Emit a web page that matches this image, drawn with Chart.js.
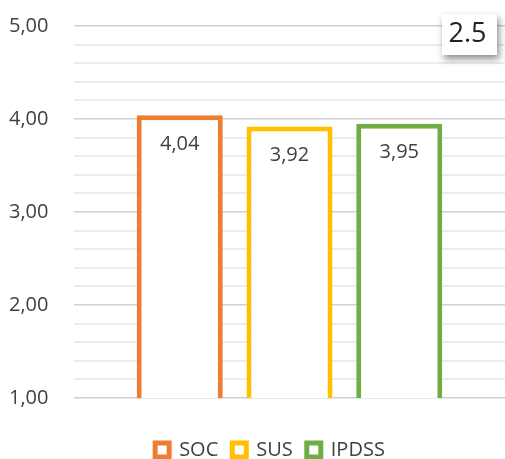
<!DOCTYPE html>
<html>
<head>
<meta charset="utf-8">
<script src="https://cdn.jsdelivr.net/npm/chart.js@4/dist/chart.umd.min.js"></script>
<style>
  html, body { margin: 0; padding: 0; background: #fff; }
  #wrap { width: 505px; height: 459px; }
</style>
</head>
<body>
<div id="wrap"><canvas id="chart"></canvas></div>
<script>
// ─── Data ───────────────────────────────────────────────────────────────────
const categories = [''];
const seriesNames = ['SOC', 'SUS', 'IPDSS'];
const seriesValues = [4.04, 3.92, 3.95];
const seriesColors = ['#ED7D31', '#FFC000', '#70AD47'];
const yMin = 1;
const yMax = 5;
const badgeText = '2.5';

const FONT = '"Open Sans", "Liberation Sans", sans-serif';
const TEXT = '#404040';

const isMajor = v => Math.abs(v - Math.round(v)) < 1e-6;
const fmt = v => v.toFixed(2).replace('.', ',');

// ─── Plugins ────────────────────────────────────────────────────────────────

// legend sits at the very bottom, with a gap above it, nudged right
const legendSpace = {
  id: 'legendSpace',
  beforeLayout(chart) {
    const lg = chart.legend;
    if (!lg || lg._patched) return;
    const fit = lg.fit;
    lg.fit = function () {
      fit.call(this);
      this.height = 61;
    };
    lg._patched = true;
  },
  afterLayout(chart) {
    const lg = chart.legend;
    if (!lg) return;
    lg.left += 13;
    lg.right += 13;
  }
};

const barLabels = {
  id: 'barLabels',
  afterDatasetsDraw(chart) {
    const ctx = chart.ctx;
    ctx.save();
    ctx.font = `20px ${FONT}`;
    ctx.fillStyle = TEXT;
    ctx.textAlign = 'center';
    ctx.textBaseline = 'middle';
    chart.data.datasets.forEach((ds, i) => {
      const bar = chart.getDatasetMeta(i).data[0];
      if (!bar) return;
      ctx.fillText(fmt(ds.data[0]), bar.x, bar.y + 29);
    });
    ctx.restore();
  }
};

const badge = {
  id: 'badge',
  afterDraw(chart) {
    const ctx = chart.ctx;
    const x = 442, y = 14, w = 55, h = 41;
    ctx.save();
    ctx.shadowColor = 'rgba(0,0,0,0.45)';
    ctx.shadowBlur = 7;
    ctx.shadowOffsetX = 2;
    ctx.shadowOffsetY = 4;
    ctx.fillStyle = '#fff';
    ctx.fillRect(x, y, w, h);
    ctx.restore();
    ctx.save();
    ctx.font = `27px ${FONT}`;
    ctx.fillStyle = '#222';
    ctx.textAlign = 'center';
    ctx.textBaseline = 'middle';
    ctx.fillText(badgeText, x + w / 2 - 2, y + h / 2);
    ctx.restore();
  }
};

// ─── Chart ──────────────────────────────────────────────────────────────────

const datasets = seriesNames.map((name, i) => ({
  label: name,
  data: [seriesValues[i]],
  backgroundColor: '#ffffff',
  borderColor: seriesColors[i],
  borderWidth: 5,
  borderSkipped: false,
  categoryPercentage: 0.764,
  barPercentage: 0.784
}));

new Chart(document.getElementById('chart'), {
  type: 'bar',
  data: { labels: categories, datasets },
  plugins: [legendSpace, barLabels, badge],
  options: {
    responsive: true,
    maintainAspectRatio: false,
    animation: false,
    layout: { padding: { top: 26, right: 0, bottom: 0, left: 9 } },
    plugins: {
      tooltip: { enabled: false },
      legend: {
        position: 'bottom',
        title: { display: true, text: '', font: { size: 10, lineHeight: 1 }, padding: { top: 18, bottom: 0 } },
        labels: {
          color: TEXT,
          font: { family: FONT, size: 20 },
          boxWidth: 14,
          boxHeight: 14,
          padding: 14
        }
      }
    },
    scales: {
      x: { display: false },
      y: {
        min: yMin,
        max: yMax,
        afterFit: s => { s.width = 65; },
        border: { display: false },
        ticks: {
          stepSize: 0.2,
          padding: 0,
          crossAlign: 'far',
          color: TEXT,
          font: { family: FONT, size: 20 },
          autoSkip: false,
          callback: v => isMajor(v) ? fmt(v) : ''
        },
        grid: {
          drawTicks: false,
          color: c => isMajor(c.tick.value) ? '#cfcfcf' : '#ececec',
          lineWidth: c => isMajor(c.tick.value) ? 1.5 : 2
        }
      }
    }
  }
});
</script>
</body>
</html>
